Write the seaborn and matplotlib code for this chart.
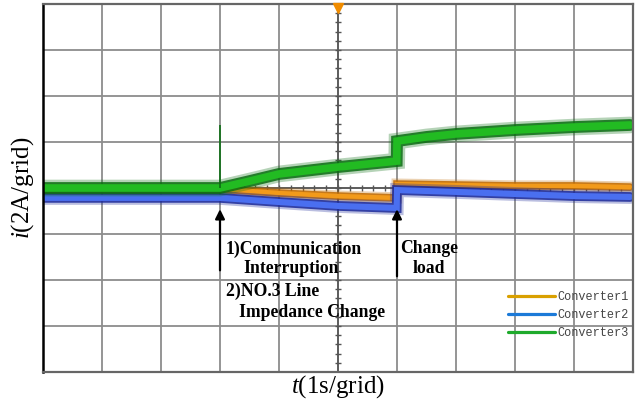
import numpy as np
import pandas as pd
import matplotlib
matplotlib.use("Agg")
import matplotlib.pyplot as plt
import seaborn as sns
from matplotlib.lines import Line2D

# time points (s) and currents (A, 2A per grid, 0 at the centre line)
t = [0.0, 3.0, 3.5, 4.0, 5.0, 5.995, 6.0, 6.5, 7.0, 8.0, 9.0, 9.95]
conv1 = [-0.05, -0.05, -0.13, -0.22, -0.35, -0.43, 0.17, 0.15, 0.13, 0.09, 0.09, 0.04]
conv2 = [-0.43, -0.43, -0.52, -0.61, -0.78, -0.87, -0.09, -0.13, -0.17, -0.26, -0.35, -0.39]
conv3 = [0.0, 0.0, 0.30, 0.61, 0.91, 1.17, 2.04, 2.22, 2.35, 2.52, 2.65, 2.74]
names = ["Converter1", "Converter2", "Converter3"]

# spike on converter3 at the communication interruption
spike_t = [3.0]
spike_peak = [2.74]

df = pd.concat([
    pd.DataFrame({"t": t, "i": v, "converter": n})
    for v, n in zip([conv1, conv2, conv3], names)
])

sns.set_style("white")
plt.rcParams["font.family"] = ["Liberation Serif", "DejaVu Serif"]
plt.rcParams["text.color"] = "black"
plt.rcParams["axes.labelcolor"] = "black"
plt.rcParams["mathtext.fontset"] = "custom"
plt.rcParams["mathtext.it"] = "Liberation Serif:italic"
plt.rcParams["mathtext.rm"] = "Liberation Serif"

fig = plt.figure(figsize=(6.39, 4.04), dpi=100)
ax = fig.add_axes([43 / 639, 32 / 404, 590 / 639, 368 / 404])

# grid
for x in range(1, 10):
    ax.axvline(x, color="#8c8c8c", lw=1.3, zorder=0)
for y in range(-6, 8, 2):
    ax.axhline(y, color="#8c8c8c", lw=1.3, zorder=0)
ax.axvline(5, color="#555555", lw=1.2, zorder=0)
ax.axhline(0, color="#555555", lw=1.2, zorder=0)
mx = np.arange(0.2, 10, 0.2)
ax.plot(mx, np.zeros_like(mx), ls="none", marker="|", ms=5, mew=1, color="#555555", zorder=0)
my = np.arange(-7.6, 8, 0.4)
ax.plot(np.full_like(my, 5), my, ls="none", marker="_", ms=5, mew=1, color="#555555", zorder=0)

# traces: outer halo, dark edge, bright core
styles = {
    "Converter1": ("#c06a00", "#f29a1a", 8, 5.5, 3.2),
    "Converter2": ("#1c2a9a", "#4a6ff0", 10, 7.0, 4.4),
    "Converter3": ("#0b6e12", "#22bb22", 12, 8.5, 5.5),
}
for n in names:
    edge, core, halo, lw_e, lw_c = styles[n]
    d = df[df["converter"] == n]
    sns.lineplot(data=d, x="t", y="i", color=edge, lw=halo, alpha=0.3,
                 sort=False, estimator=None, ax=ax, zorder=2, solid_joinstyle="miter")
    sns.lineplot(data=d, x="t", y="i", color=edge, lw=lw_e, alpha=0.85,
                 sort=False, estimator=None, ax=ax, zorder=2, solid_joinstyle="miter")
    sns.lineplot(data=d, x="t", y="i", color=core, lw=lw_c,
                 sort=False, estimator=None, ax=ax, zorder=2, solid_joinstyle="miter")
ax.vlines(spike_t, 0, spike_peak, color="#0b6e12", lw=1.2, zorder=3)

# trigger marker
ax.plot([5], [7.84], marker="v", ms=7, color="#f08c00", clip_on=False, zorder=5)

# annotations
ap = dict(arrowstyle="-|>", color="black", lw=1.6, mutation_scale=14)
ax.annotate("", xy=(3.0, -0.8), xytext=(3.0, -3.7), arrowprops=ap)
ax.annotate("", xy=(6.0, -0.8), xytext=(6.0, -3.96), arrowprops=ap)
tk = dict(fontsize=12.7, fontweight="bold", va="center", ha="left", color="black")
ax.text(3.10, -2.65, "1)Communication", **tk)
ax.text(3.40, -3.52, "Interruption", **tk)
ax.text(3.10, -4.48, "2)NO.3 Line", **tk)
ax.text(3.32, -5.43, "Impedance Change", **tk)
ax.text(6.05, -2.65, "Change", **tk)
ax.text(6.27, -3.52, "load", **tk)

# legend
leg_colors = ["#d9a000", "#1c7ad8", "#1faa2c"]
handles = [Line2D([], [], color=c, lw=2.3) for c in leg_colors]
leg = ax.legend(handles, names, loc="upper left", bbox_to_anchor=(0.788, 0.22),
                frameon=False, borderpad=0, borderaxespad=0, handlelength=3.9,
                handletextpad=0.25, labelspacing=0.5,
                prop={"family": "Liberation Mono", "size": 8.6})
for txt in leg.get_texts():
    txt.set_color("#444444")

ax.set_xlim(0, 10)
ax.set_ylim(-8, 8)
ax.set_xticks([])
ax.set_yticks([])
ax.set_xlabel(r"$t$(1s/grid)", fontsize=18, va="top")
ax.set_ylabel(r"$i$(2A/grid)", fontsize=18)
ax.xaxis.set_label_coords(0.5, -0.004)
ax.yaxis.set_label_coords(-0.012, 0.5)

ax.spines["left"].set_color("black")
ax.spines["left"].set_linewidth(1.8)
for s in ["top", "right", "bottom"]:
    ax.spines[s].set_color("#666666")
    ax.spines[s].set_linewidth(1.6)

fig.savefig("out.png", dpi=100)
